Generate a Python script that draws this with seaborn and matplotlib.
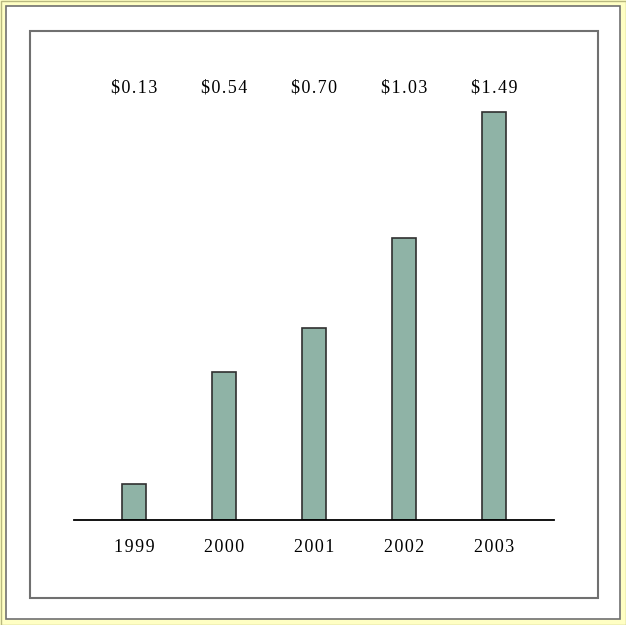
import matplotlib
matplotlib.use("Agg")
import matplotlib.pyplot as plt
from matplotlib.patches import Rectangle
import seaborn as sns
import pandas as pd

years = ["1999", "2000", "2001", "2002", "2003"]
eps = [0.13, 0.54, 0.70, 1.03, 1.49]
eps_labels = ["$0.13", "$0.54", "$0.70", "$1.03", "$1.49"]

sns.set_style("white")
plt.rcParams["font.family"] = ["Liberation Serif", "DejaVu Serif"]

W, H = 626, 625
fig = plt.figure(figsize=(W / 100, H / 100), dpi=100)
fig.patch.set_facecolor("#FFFFC4")

def px_rect(x0, y0, x1, y1, **kw):
    return Rectangle((x0 / W, 1 - y1 / H), (x1 - x0) / W, (y1 - y0) / H,
                     transform=fig.transFigure, zorder=-5, **kw)

def spaced(s):
    # open letter spacing with hair spaces
    return "\u200a".join(s)

# outer olive edge, white page and inner chart frame
fig.patches.append(px_rect(0.5, 0.5, W - 0.5, H - 0.5, fill=False,
                           edgecolor="#B8B880", linewidth=1))
fig.patches.append(px_rect(6, 6, 620, 619, facecolor="white",
                           edgecolor="#707070", linewidth=1.2))
fig.patches.append(px_rect(30, 31, 598, 598, fill=False,
                           edgecolor="#707070", linewidth=1.5))

base_y, top_y = 520, 100
ax = fig.add_axes([74 / W, 1 - base_y / H, 480 / W, (base_y - top_y) / H])
ax.set_zorder(1)
ax.patch.set_alpha(0)
scale = 273.8  # pixels per dollar
df = pd.DataFrame({"year": years, "eps": eps})
sns.barplot(data=df, x="year", y="eps", color="#8FB3A6", saturation=1,
            edgecolor="#303030", linewidth=1.2, width=0.267, ax=ax)
ax.set_xlim(-0.667, 4.667)
ax.set_ylim(0, (base_y - top_y) / scale)

for s in ["top", "left", "right"]:
    ax.spines[s].set_visible(False)
ax.spines["bottom"].set_color("black")
ax.spines["bottom"].set_linewidth(1.3)
ax.set_xticks([])
ax.set_yticks([])
ax.set_xlabel("")
ax.set_ylabel("")

for i, (yr, lab) in enumerate(zip(years, eps_labels)):
    ax.text(i, -(548 - base_y) / scale, spaced(yr), ha="center", va="center",
            fontsize=13, color="black", clip_on=False)
    ax.text(i, (base_y - 88) / scale, spaced(lab), ha="center", va="center",
            fontsize=13, color="black", clip_on=False)

fig.savefig("out.png", dpi=100, facecolor=fig.get_facecolor())
